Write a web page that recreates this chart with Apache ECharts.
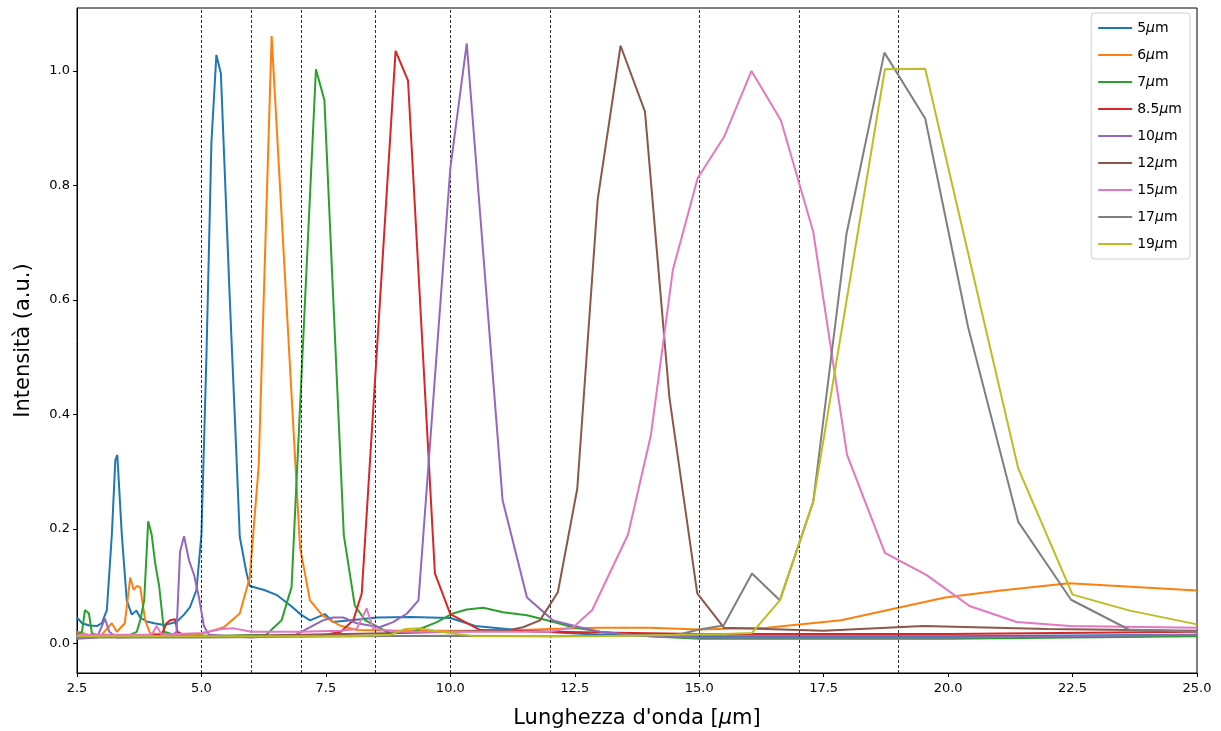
<!DOCTYPE html>
<html>
<head>
<meta charset="utf-8">
<script src="https://cdn.jsdelivr.net/npm/echarts@6/dist/echarts.min.js"></script>
<style>
html,body{margin:0;padding:0;background:#fff;}
#chart{width:1221px;height:731px;}
</style>
</head>
<body>
<div id="chart"></div>
<script>
// ---- data: [wavelength (µm), intensity (a.u.)] ----
const seriesNames = ['5μm','6μm','7μm','8.5μm','10μm','12μm','15μm','17μm','19μm'];
const colors = ['#1f77b4','#ff7f0e','#2ca02c','#d62728','#9467bd','#8c564b','#e377c2','#7f7f7f','#bcbd22'];
const xTicks = [2.5,5,7.5,10,12.5,15,17.5,20,22.5,25];
const yTicks = [0,0.2,0.4,0.6,0.8,1.0];
const filterLines = [5,6,7,8.5,10,12,15,17,19];

const s5 = [[2.5,0.045],[2.6,0.035],[2.75,0.031],[2.9,0.03],[3.0,0.035],[3.1,0.058],[3.2,0.19],[3.27,0.32],[3.31,0.329],[3.4,0.19],[3.5,0.075],[3.6,0.05],[3.69,0.057],[3.77,0.045],[3.9,0.038],[4.05,0.035],[4.25,0.032],[4.5,0.037],[4.65,0.05],[4.77,0.063],[4.9,0.093],[5.0,0.19],[5.1,0.5],[5.2,0.874],[5.3,1.028],[5.39,0.996],[5.57,0.6],[5.69,0.355],[5.77,0.186],[5.9,0.125],[5.97,0.1],[6.26,0.093],[6.52,0.084],[6.8,0.065],[7.0,0.05],[7.18,0.04],[7.48,0.051],[7.64,0.037],[8.0,0.04],[8.53,0.045],[9.19,0.046],[10.0,0.044],[10.5,0.03],[11.5,0.022],[13,0.015],[15,0.012],[20,0.012],[25,0.015]];
const s6 = [[2.5,0.02],[2.64,0.017],[2.8,0.012],[3.0,0.015],[3.2,0.035],[3.3,0.02],[3.46,0.035],[3.57,0.115],[3.64,0.093],[3.7,0.1],[3.77,0.098],[3.87,0.04],[3.97,0.017],[4.5,0.015],[5.0,0.016],[5.45,0.028],[5.77,0.052],[5.97,0.115],[6.15,0.31],[6.41,1.061],[6.98,0.168],[7.18,0.075],[7.44,0.048],[7.78,0.031],[8.12,0.023],[9,0.022],[10,0.022],[11,0.022],[12,0.025],[13,0.027],[14,0.027],[15,0.024],[16.36,0.027],[17.85,0.04],[19.94,0.08],[21.06,0.092],[22.43,0.105],[25,0.092]];
const s7 = [[2.5,0.015],[2.6,0.02],[2.66,0.058],[2.74,0.052],[2.8,0.017],[3.0,0.012],[3.5,0.012],[3.7,0.02],[3.77,0.04],[3.85,0.075],[3.93,0.213],[4.0,0.19],[4.07,0.14],[4.15,0.1],[4.25,0.02],[4.5,0.013],[5.5,0.013],[6.3,0.015],[6.61,0.04],[6.81,0.098],[7.3,1.003],[7.47,0.949],[7.86,0.189],[8.08,0.066],[8.29,0.04],[8.53,0.029],[8.8,0.017],[9.25,0.02],[9.73,0.037],[10.05,0.052],[10.33,0.059],[10.66,0.062],[11.06,0.054],[11.54,0.049],[12.0,0.039],[12.47,0.028],[13.0,0.02],[14,0.012],[15,0.008],[20,0.008],[25,0.012]];
const s85 = [[2.5,0.012],[3.5,0.012],[4.2,0.015],[4.3,0.035],[4.37,0.04],[4.47,0.042],[4.52,0.02],[4.7,0.012],[6,0.012],[7,0.013],[7.5,0.015],[7.8,0.02],[8.05,0.04],[8.22,0.087],[8.9,1.035],[9.15,0.983],[9.69,0.122],[10.0,0.051],[10.6,0.023],[12,0.02],[15,0.016],[20,0.016],[25,0.02]];
const s10 = [[2.5,0.008],[2.9,0.01],[3.0,0.03],[3.06,0.043],[3.15,0.02],[3.3,0.01],[4.4,0.013],[4.5,0.02],[4.57,0.16],[4.65,0.187],[4.75,0.145],[4.85,0.12],[4.95,0.08],[5.05,0.03],[5.15,0.015],[6,0.01],[6.9,0.015],[7.44,0.04],[7.65,0.045],[7.85,0.045],[8.12,0.035],[8.58,0.028],[8.85,0.037],[9.13,0.052],[9.36,0.075],[10.0,0.83],[10.33,1.048],[11.05,0.25],[11.54,0.08],[12.06,0.04],[12.6,0.028],[13,0.02],[14,0.012],[15,0.01],[20,0.01],[25,0.015]];
const s12 = [[2.5,0.012],[5,0.012],[7,0.015],[9,0.018],[10,0.02],[11.2,0.023],[11.46,0.028],[11.8,0.04],[12.16,0.089],[12.55,0.27],[12.96,0.775],[13.42,1.044],[13.91,0.929],[14.4,0.43],[14.96,0.087],[15.5,0.027],[17.5,0.022],[19.5,0.03],[22,0.025],[25,0.022]];
const s15 = [[2.5,0.015],[3,0.015],[4.0,0.015],[4.1,0.03],[4.2,0.015],[5.0,0.018],[5.4,0.025],[5.65,0.026],[6.0,0.02],[7,0.02],[7.8,0.022],[8.12,0.025],[8.32,0.061],[8.45,0.025],[9,0.02],[10,0.02],[12,0.02],[12.47,0.028],[12.85,0.058],[13.57,0.19],[14.03,0.364],[14.47,0.652],[14.97,0.813],[15.5,0.885],[16.05,1.0],[16.64,0.914],[17.29,0.719],[17.97,0.329],[18.73,0.158],[19.57,0.119],[20.43,0.065],[21.38,0.037],[22.45,0.03],[25,0.027]];
const s17 = [[2.5,0.01],[5,0.01],[8,0.012],[10,0.013],[12,0.012],[14.53,0.014],[15.0,0.024],[15.49,0.031],[16.06,0.122],[16.62,0.075],[17.29,0.247],[17.96,0.716],[18.72,1.032],[19.54,0.917],[20.4,0.553],[21.41,0.212],[22.47,0.076],[23.63,0.024],[25,0.02]];
const s19 = [[2.5,0.012],[5,0.012],[8,0.012],[8.8,0.015],[9.1,0.025],[9.39,0.026],[9.8,0.02],[10.5,0.012],[13,0.012],[15.49,0.016],[16.06,0.018],[16.62,0.075],[17.29,0.247],[18.73,1.003],[19.54,1.004],[21.41,0.305],[22.5,0.085],[23.65,0.057],[25,0.033]];
const seriesData = [s5,s6,s7,s85,s10,s12,s15,s17,s19];

const FONT = 'DejaVu Sans';
const chart = echarts.init(document.getElementById('chart'), null, {renderer:'canvas'});

const series = seriesData.map((d,i)=>{
  const s = {
    name: seriesNames[i], type:'line', data:d, showSymbol:false, symbol:'none',
    lineStyle:{width:2, color:colors[i]}, itemStyle:{color:colors[i]},
    silent:true, animation:false, z:2+i
  };
  if(i===0){
    s.markLine = {
      silent:true, symbol:['none','none'], animation:false,
      label:{show:false},
      lineStyle:{type:[3,2], color:'#000', width:0.8},
      data: filterLines.map(v=>({xAxis:v}))
    };
  }
  return s;
});

chart.setOption({
  animation:false,
  backgroundColor:'#fff',
  grid:{left:77, right:24, top:8, bottom:58, show:true, borderColor:'#000', borderWidth:1,
    backgroundColor:'transparent', containLabel:false, outerBoundsMode:'none'},
  legend:{
    data: seriesNames, orient:'vertical', right:31, top:13,
    icon:'rect', itemWidth:34, itemHeight:2, itemGap:11,
    padding:[7,8,7,7],
    backgroundColor:'rgba(255,255,255,0.8)', borderColor:'#d0d0d0', borderWidth:1, borderRadius:3,
    formatter: name => name.replace('μ','{i|μ}'),
    textStyle:{fontFamily:FONT, fontSize:14, color:'#000', lineHeight:16,
      rich:{i:{fontFamily:FONT, fontSize:14, fontStyle:'italic', color:'#000', lineHeight:16}}},
    selectedMode:false
  },
  xAxis:{
    type:'value', min:2.5, max:25, interval:2.5,
    name:"Lunghezza d'onda [{i|μ}m]", nameLocation:'middle', nameGap:35,
    nameTextStyle:{fontFamily:FONT, fontSize:21, color:'#000',
      rich:{i:{fontFamily:FONT, fontSize:21, fontStyle:'italic', color:'#000'}}},
    axisLine:{show:true, onZero:false, lineStyle:{color:'#000', width:1}},
    axisTick:{show:true, inside:false, length:4, lineStyle:{color:'#000'}},
    axisLabel:{fontFamily:FONT, fontSize:13, color:'#000', margin:9, formatter:v=>v.toFixed(1),
      customValues: xTicks},
    splitLine:{show:false}
  },
  yAxis:{
    type:'value', min:-0.052, max:1.11,
    name:'Intensità (a.u.)', nameLocation:'middle', nameGap:43, nameRotate:90,
    nameTextStyle:{fontFamily:FONT, fontSize:21, color:'#000'},
    axisLine:{show:true, onZero:false, lineStyle:{color:'#000', width:1}},
    axisTick:{show:true, inside:false, length:4, lineStyle:{color:'#000'}, customValues: yTicks},
    axisLabel:{fontFamily:FONT, fontSize:13, color:'#000', margin:7, formatter:v=>v.toFixed(1),
      customValues: yTicks},
    splitLine:{show:false}
  },
  series: series
});
</script>
</body>
</html>
